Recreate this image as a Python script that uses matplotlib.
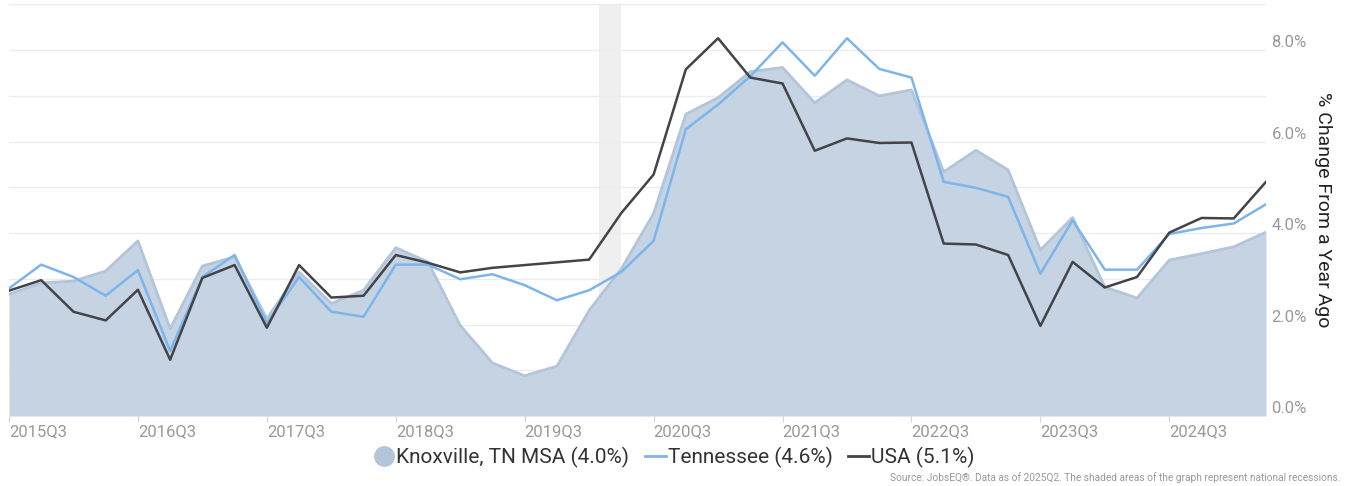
import matplotlib
matplotlib.use("Agg")
import matplotlib.pyplot as plt
from matplotlib.lines import Line2D
import numpy as np

plt.rcParams['font.family'] = ['Roboto', 'DejaVu Sans']

# quarters 2015Q3 .. 2025Q2
quarters = ["%dQ%d" % (2015 + (q + 2) // 4, (q + 2) % 4 + 1) for q in range(40)]

knoxville = [2.66, 2.91, 2.95, 3.17, 3.83, 1.91, 3.28, 3.48, 2.13, 3.15,
             2.46, 2.75, 3.68, 3.37, 1.98, 1.16, 0.88, 1.09, 2.31, 3.22,
             4.43, 6.60, 6.96, 7.53, 7.62, 6.85, 7.35, 7.00, 7.13, 5.34,
             5.81, 5.38, 3.63, 4.34, 2.82, 2.58, 3.41, 3.55, 3.70, 4.02]
tennessee = [2.79, 3.31, 3.04, 2.63, 3.19, 1.42, 3.04, 3.52, 2.03, 3.04,
             2.28, 2.17, 3.31, 3.31, 2.99, 3.10, 2.86, 2.53, 2.75, 3.15,
             3.83, 6.27, 6.81, 7.43, 8.17, 7.44, 8.26, 7.59, 7.40, 5.12,
             4.99, 4.79, 3.11, 4.28, 3.20, 3.20, 3.98, 4.11, 4.21, 4.63]
usa = [2.74, 2.97, 2.28, 2.09, 2.76, 1.23, 3.02, 3.30, 1.93, 3.30,
       2.59, 2.63, 3.52, 3.35, 3.14, 3.24, 3.30, 3.36, 3.42, 4.44,
       5.28, 7.58, 8.26, 7.40, 7.27, 5.80, 6.07, 5.97, 5.98, 3.77,
       3.75, 3.52, 1.97, 3.37, 2.81, 3.04, 4.01, 4.33, 4.32, 5.12]

# national recession band (in quarter index units)
recession = (18.3, 19.0)

W, H = 1349, 486
fig = plt.figure(figsize=(W / 100, H / 100), dpi=100)
ax = fig.add_axes([9 / W, 1 - 416 / H, (1266 - 9) / W, (416 - 4.4) / H])

x = np.arange(len(quarters))

ax.axvspan(*recession, color='#efefef', zorder=0, lw=0)
ax.fill_between(x, 0, knoxville, color='#c5d3e2', lw=0, zorder=2)
ax.plot(x, knoxville, color='#b3c5da', lw=2, zorder=2)
ax.plot(x, tennessee, color='#7cb5ec', lw=1.8, zorder=3)
ax.plot(x, usa, color='#434348', lw=1.8, zorder=4)

ax.set_xlim(0, 39)
ax.set_ylim(0, 9)

# y axis on the right
ax.yaxis.tick_right()
ax.set_yticks([0, 2, 4, 6, 8])
ax.set_yticks([1, 3, 5, 7, 9], minor=True)
ax.set_yticklabels(["%.1f%%" % v for v in [0, 2, 4, 6, 8]])
ax.tick_params(axis='y', which='both', length=0, pad=4, labelsize=12, labelcolor='#999999')
for lbl in ax.get_yticklabels():
    lbl.set_verticalalignment('bottom')
ax.grid(axis='y', which='both', color='#ececec', lw=1, zorder=1)
ax.set_axisbelow(True)

# x ticks every 4 quarters
xt = list(range(0, 40, 4))
ax.set_xticks(xt)
ax.set_xticklabels([quarters[i] for i in xt], ha='left')
ax.tick_params(axis='x', length=4, color='#ccd6eb', pad=2, labelsize=12, labelcolor='#999999')

for s in ax.spines.values():
    s.set_visible(False)

fig.text(1323 / W, 1 - 210 / H, "% Change From a Year Ago", rotation=270,
         ha='center', va='center', fontsize=14, color='#222222')

handles = [
    Line2D([], [], marker='o', ls='none', markersize=14, color='#b3c5da'),
    Line2D([], [], color='#7cb5ec', lw=2),
    Line2D([], [], color='#434348', lw=2),
]
labels = ["Knoxville, TN MSA (4.0%)", "Tennessee (4.6%)", "USA (5.1%)"]
fig.legend(handles, labels, loc='center', bbox_to_anchor=(674 / W, 1 - 457 / H), ncol=3,
           frameon=False, handlelength=1.0, handletextpad=0.1, columnspacing=0.75,
           fontsize=15, labelcolor='#333333', borderpad=0, borderaxespad=0)

fig.text(1340 / W, 1 - 478 / H,
         "Source: JobsEQ\u00ae. Data as of 2025Q2. The shaded areas of the graph represent national recessions.",
         ha='right', va='center', fontsize=7.3, color='#999999')

fig.savefig("out.png", dpi=100)
